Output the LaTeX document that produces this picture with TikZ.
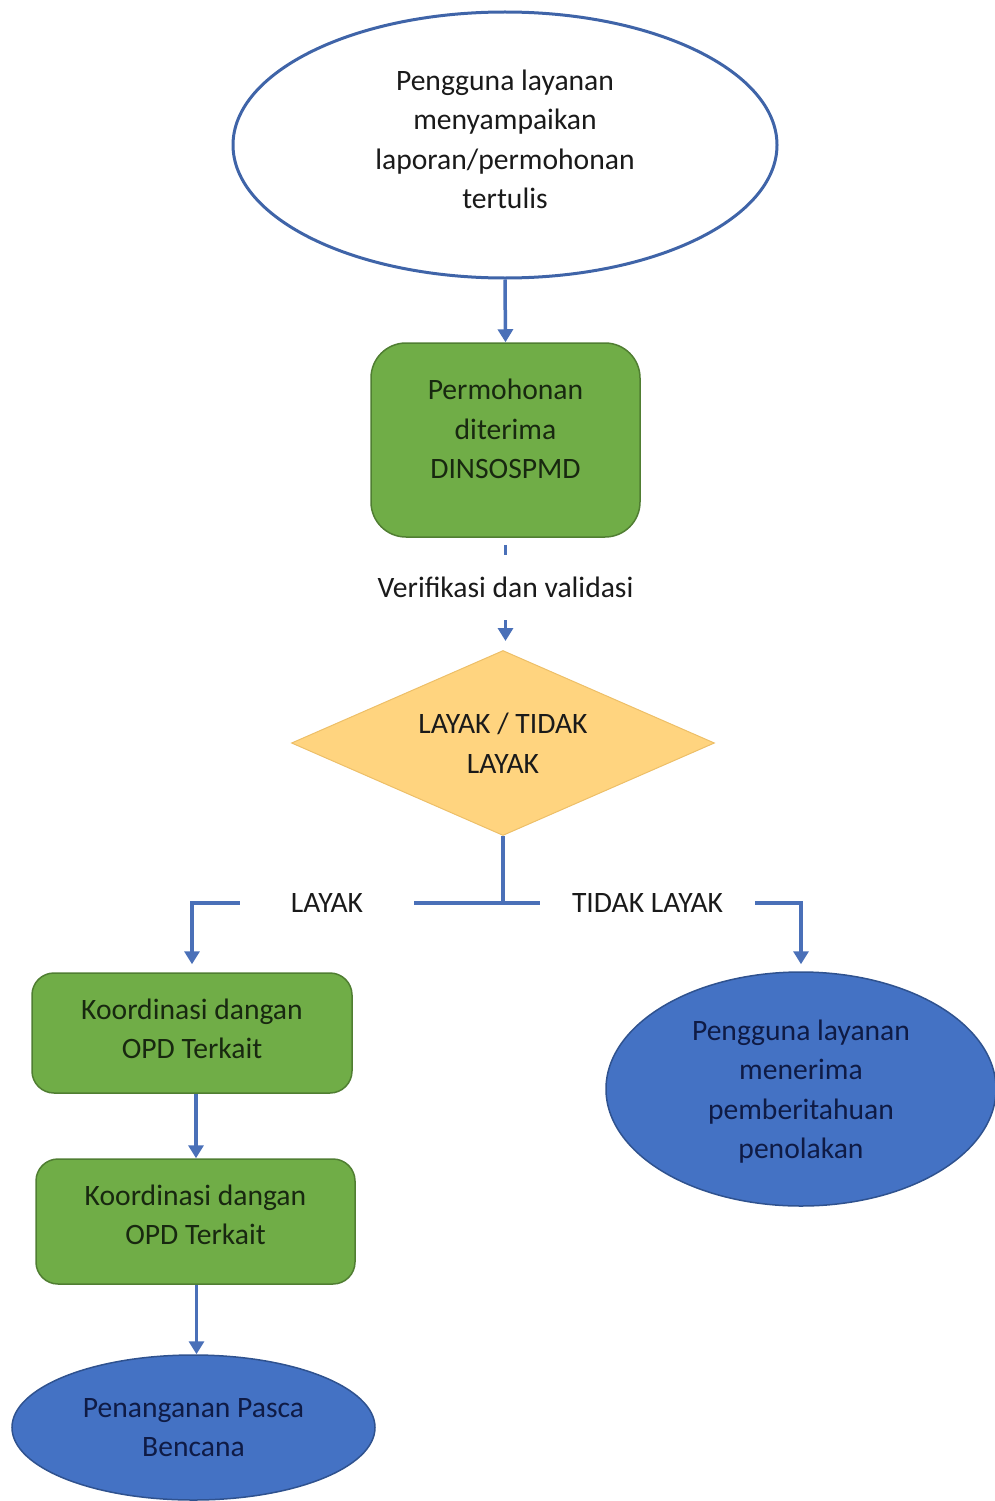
\documentclass[tikz,border=0pt]{standalone}
\usepackage{fontspec}
\setmainfont{Carlito}
\usetikzlibrary{shapes.geometric,arrows.meta}
\definecolor{lineblue}{HTML}{4A70B8}
\definecolor{edgeblue}{HTML}{3F64A8}
\definecolor{boxgreen}{HTML}{70AD47}
\definecolor{greenedge}{HTML}{507E32}
\definecolor{diamfill}{HTML}{FFD47F}
\definecolor{diamedge}{HTML}{EDBF68}
\definecolor{greentext}{HTML}{182810}
\definecolor{bluetext}{HTML}{0F1B45}
\definecolor{ellfill}{HTML}{4472C4}
\definecolor{elledge}{HTML}{2F528F}
\definecolor{plaintext}{HTML}{1A1A1A}
\begin{document}
\begin{tikzpicture}[x=1pt,y=-1pt,
  every node/.style={font=\fontsize{29.6}{39.5}\selectfont, align=center, inner sep=0pt, text=plaintext},
  flow/.style={draw=lineblue, line width=3.5pt, -{Triangle[length=13pt,width=15pt]}},
  plainline/.style={draw=lineblue, line width=3.5pt},
  greenbox/.style={rectangle, draw=greenedge, line width=1.5pt, fill=boxgreen, text=greentext},
  blueoval/.style={ellipse, draw=elledge, line width=1.5pt, fill=ellfill, text=bluetext},
  startoval/.style={ellipse, draw=edgeblue, line width=3pt, fill=white},
  decision/.style={diamond, draw=diamedge, line width=1pt, fill=diamfill, shape aspect=2.3}]
\useasboundingbox (0,0) rectangle (995,1501);

\node[startoval, minimum width=544pt, minimum height=266pt, text depth=12pt] (start) at (505,145)
  {Pengguna layanan\\menyampaikan\\laporan/permohonan\\tertulis};
\node[greenbox, rounded corners=35pt, minimum width=269pt, minimum height=194pt, text depth=22pt] (recv) at (505.5,440)
  {Permohonan\\diterima\\DINSOSPMD};
\node[minimum height=65pt] (verif) at (505.5,587.5) {Verifikasi dan validasi};
\node[decision, minimum width=423pt, minimum height=185pt] (diam) at (503,743)
  {LAYAK / TIDAK\\LAYAK};
\coordinate (dtop) at ([yshift=9pt]diam.north);
\coordinate (jn) at (503,903);
\node[minimum width=174pt] (lay) at (327,903) {LAYAK};
\node[minimum width=215pt] (tlay) at (647.5,903) {TIDAK LAYAK};
\node[greenbox, rounded corners=22pt, minimum width=320pt, minimum height=120pt, text depth=9pt] (coord1) at (192,1033)
  {Koordinasi dangan\\OPD Terkait};
\node[greenbox, rounded corners=22pt, minimum width=319pt, minimum height=125pt, text depth=14pt] (coord2) at (195.5,1221.5)
  {Koordinasi dangan\\OPD Terkait};
\node[blueoval, minimum width=363pt, minimum height=145pt] (pasca) at (193.5,1427.5)
  {Penanganan Pasca\\Bencana};
\node[blueoval, minimum width=390pt, minimum height=234pt, text depth=-2pt] (tolak) at (801,1089)
  {Pengguna layanan\\menerima\\pemberitahuan\\penolakan};

\draw[flow] (start.south) -- (recv.north);
\draw[plainline] ([yshift=-7pt]recv.south) -- (verif.north);
\draw[flow] (verif.south) -- (verif.south |- dtop);
\draw[plainline] (diam.south) -- (jn);
\draw[plainline] (lay.east) -- (tlay.west);
\draw[flow] (lay.west) -| ([yshift=8pt]coord1.north);
\draw[flow] (tlay.east) -| ([yshift=7pt]tolak.north);
\draw[flow] ([xshift=4pt]coord1.south) -- ([xshift=4pt]coord1.south |- coord2.north);
\draw[flow] ([xshift=1pt]coord2.south) -- ([xshift=1pt]coord2.south |- pasca.north);
\end{tikzpicture}
\end{document}
